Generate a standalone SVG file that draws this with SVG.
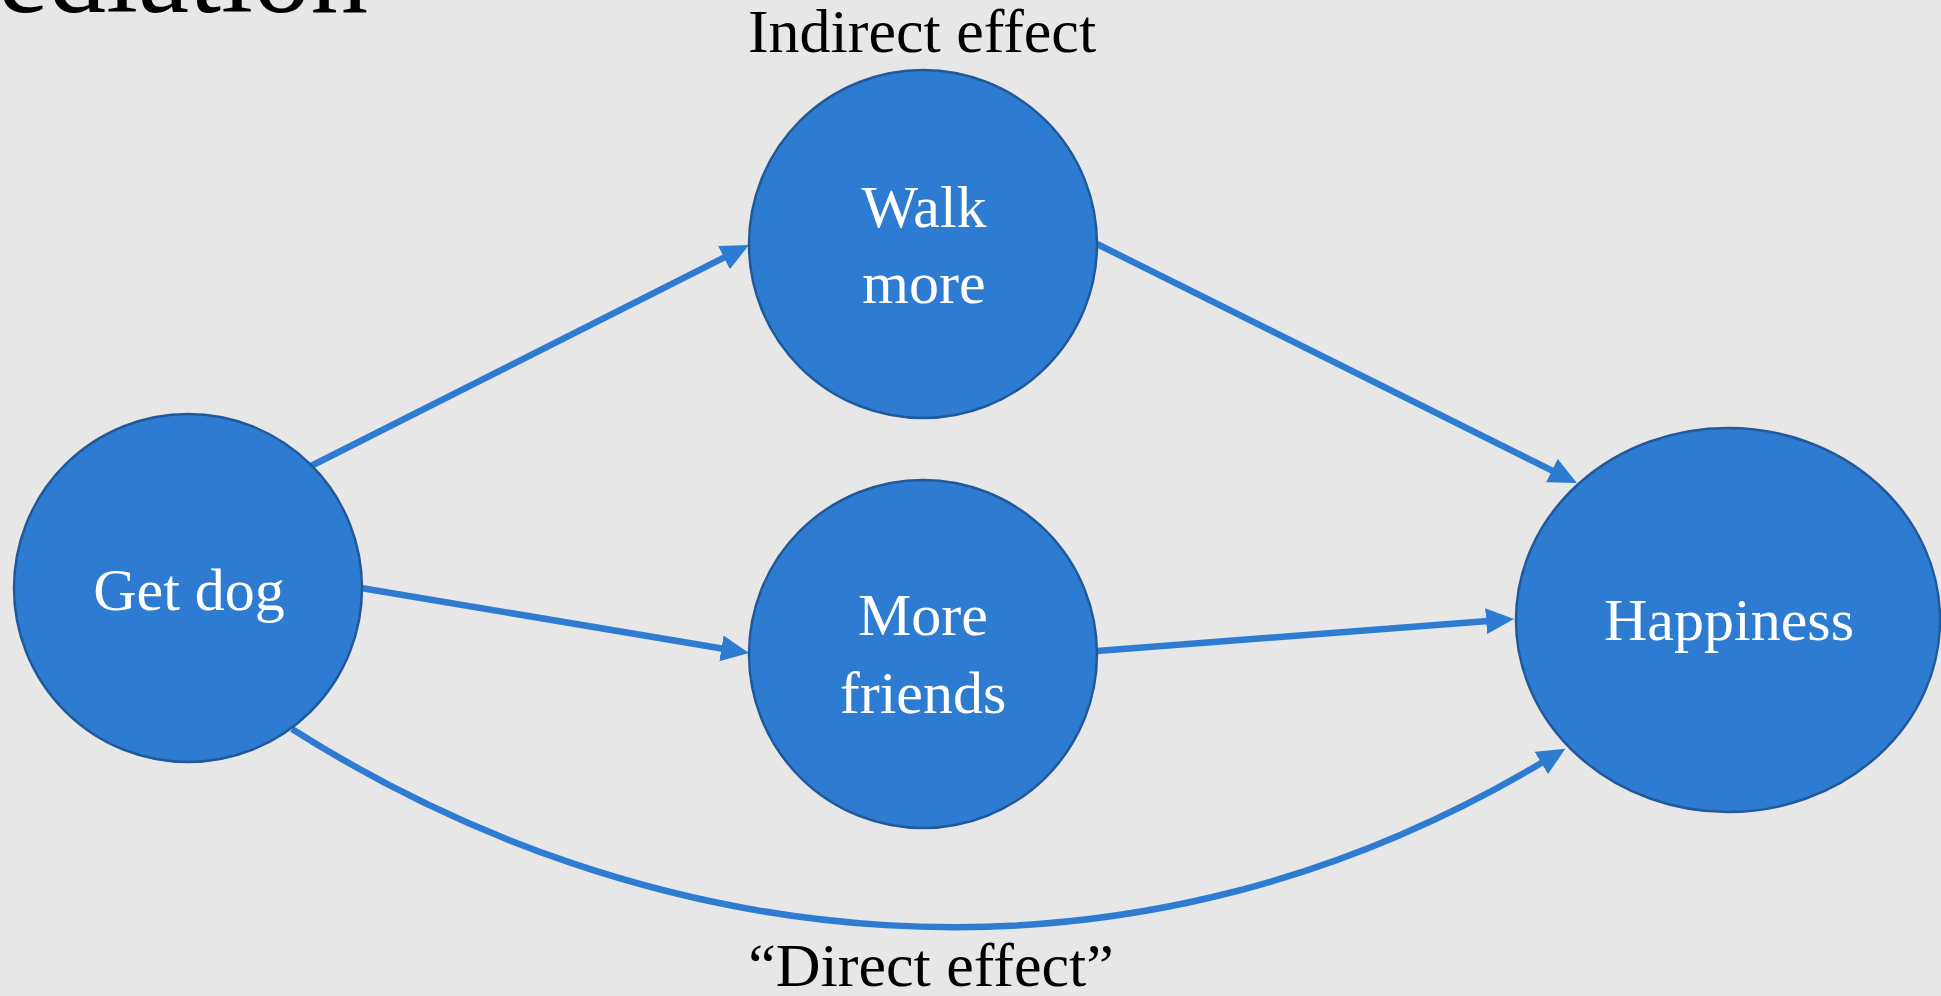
<svg xmlns="http://www.w3.org/2000/svg" width="1941" height="996" viewBox="0 0 1941 996">
<style>
.node{fill:#2D7CD1;stroke:#22599A;stroke-width:2.5}
.nt{font-family:"Liberation Serif","Times New Roman",serif;font-size:60px;fill:#FFFFFF;text-anchor:middle}
.lt{font-family:"Liberation Serif","Times New Roman",serif;font-size:62px;fill:#000000;text-anchor:middle}
.edge{fill:none;stroke:#2E7CD2;stroke-width:6.5}
</style>
<defs>
<marker id="ah" markerUnits="userSpaceOnUse" markerWidth="32" markerHeight="28" refX="2" refY="13" orient="auto">
<path d="M0,0 L28,13 L0,26 z" fill="#2E7CD2"/>
</marker>
</defs>
<rect x="0" y="0" width="1941" height="996" fill="#E7E7E7"/>
<text x="368" y="12" font-family="Liberation Serif, Times New Roman, serif" font-size="115" fill="#000" text-anchor="end">Mediation</text>
<text class="lt" x="922" y="52">Indirect effect</text>
<text class="lt" x="931" y="986">“Direct effect”</text>
<g id="connectors">
<line class="edge" x1="309" y1="467" x2="725.8" y2="256.7" marker-end="url(#ah)"/>
<line class="edge" x1="1097" y1="244" x2="1553.7" y2="471.4" marker-end="url(#ah)"/>
<line class="edge" x1="361" y1="588" x2="723.4" y2="648.7" marker-end="url(#ah)"/>
<line class="edge" x1="1097" y1="651" x2="1488.1" y2="621" marker-end="url(#ah)"/>
<path class="edge" d="M292,729 C640,950 1110,1020 1543,762" marker-end="url(#ah)"/>
</g>
<g id="get-dog">
<circle class="node" cx="188" cy="588" r="174"/>
<text class="nt" x="189" y="610">Get dog</text>
</g>
<g id="walk-more">
<circle class="node" cx="923" cy="244" r="174"/>
<text class="nt" x="924" y="227">Walk</text>
<text class="nt" x="924" y="303">more</text>
</g>
<g id="more-friends">
<circle class="node" cx="923" cy="654" r="174"/>
<text class="nt" x="923" y="635">More</text>
<text class="nt" x="923" y="713">friends</text>
</g>
<g id="happiness">
<ellipse class="node" cx="1728" cy="620" rx="212" ry="192"/>
<text class="nt" x="1729" y="640">Happiness</text>
</g>
</svg>
